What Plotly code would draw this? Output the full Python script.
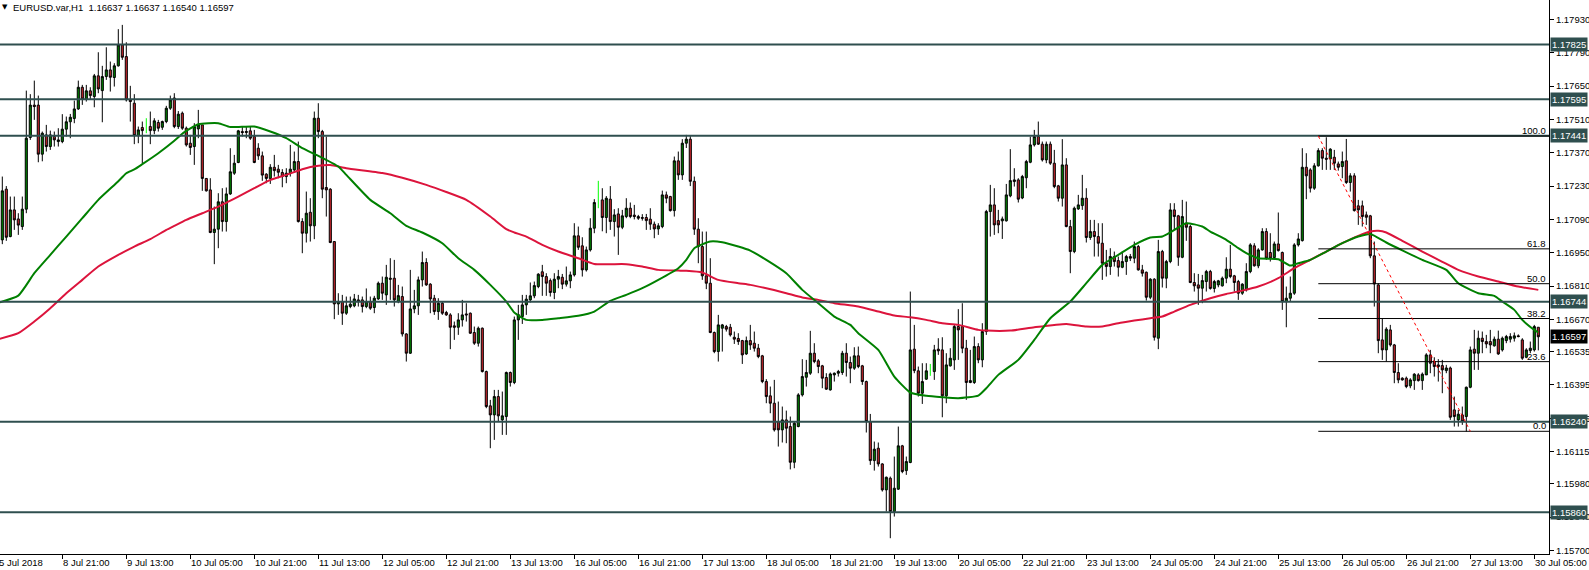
import plotly.graph_objects as go

# velas H1, precio en 1e-5 por encima de 1.0  (17441 -> 1.17441)
opens = [
    17004, 17217, 17018, 17130, 17092, 17060, 17133, 17434, 17570, 17570,
    17364, 17445, 17396, 17438, 17417, 17417, 17469, 17500, 17514, 17554,
    17645, 17595, 17630, 17606, 17693, 17631, 17690, 17718, 17686, 17735,
    17823, 17774, 17592, 17578, 17442, 17476, 17468, 17480, 17463, 17497,
    17477, 17501, 17557, 17600, 17480, 17536, 17473, 17410, 17396, 17470,
    17487, 17262, 17214, 17035, 17049, 17164, 17081, 17197, 17284, 17329,
    17459, 17455, 17462, 17438, 17389, 17357, 17280, 17262, 17309, 17301,
    17287, 17270, 17284, 17298, 17333, 17081, 17032, 17120, 17063, 17515,
    17459, 17224, 17217, 16997, 16735, 16745, 16696, 16724, 16727, 16752,
    16752, 16724, 16745, 16720, 16756, 16822, 16773, 16843, 16843, 16745,
    16766, 16609, 16528, 16714, 16727, 16836, 16909, 16818, 16759, 16703,
    16738, 16699, 16689, 16643, 16637, 16668, 16693, 16696, 16615, 16570,
    16633, 16451, 16307, 16269, 16346, 16248, 16262, 16447, 16405, 16668,
    16682, 16731, 16752, 16769, 16808, 16870, 16850, 16833, 16783, 16839,
    16847, 16818, 16832, 16857, 17021, 16979, 16878, 16962, 17053, 17161,
    17172, 17098, 17175, 17081, 17113, 17057, 17102, 17137, 17108, 17102,
    17098, 17098, 17091, 17070, 17050, 17060, 17193, 17186, 17127, 17336,
    17277, 17410, 17427, 17250, 17049, 16976, 16853, 16822, 16615, 16535,
    16633, 16640, 16637, 16595, 16590, 16581, 16525, 16581, 16570, 16549,
    16517, 16409, 16349, 16318, 16241, 16206, 16248, 16220, 16070, 16220,
    16353, 16427, 16444, 16528, 16496, 16475, 16426, 16374, 16437, 16444,
    16447, 16528, 16489, 16465, 16517, 16475, 16409, 16241, 16077, 16129,
    16063, 15954, 16003, 15863, 15957, 16139, 16035, 16069, 16545, 16454,
    16360, 16419, 16460, 16451, 16545, 16542, 16349, 16475, 16500, 16640,
    16640, 16549, 16405, 16405, 16556, 16500, 16619, 17123, 17151, 17085,
    17084, 17084, 17189, 17249, 17256, 17180, 17265, 17330, 17403, 17438,
    17406, 17340, 17406, 17326, 17231, 17179, 17319, 17060, 16955, 17134,
    17148, 17179, 17014, 17039, 17018, 16990, 16906, 16892, 16934, 16917,
    16889, 16913, 16934, 16927, 16976, 16878, 16868, 16763, 16839, 16591,
    16955, 16843, 16913, 17130, 17105, 16931, 17074, 17060, 16825, 16815,
    16801, 16829, 16871, 16800, 16815, 16811, 16843, 16881, 16853, 16829,
    16780, 16794, 16871, 16979, 16895, 16962, 17039, 16951, 16930, 16987,
    16951, 16745, 16759, 16780, 16983, 17001, 17309, 17298, 17221, 17315,
    17379, 17347, 17344, 17351, 17323, 17312, 17336, 17245, 17273, 17147,
    17147, 17109, 17105, 16937, 16815, 16584, 16542, 16626, 16563, 16447,
    16423, 16423, 16391, 16413, 16437, 16413, 16437, 16521, 16493, 16479,
    16476, 16455, 16466, 16290, 16248, 16269, 16262, 16385, 16545, 16528,
    16591, 16577, 16577, 16559, 16587, 16542, 16581, 16587, 16591, 16601,
    16584, 16511, 16539, 16542, 16637,
]
highs = [
    17270, 17230, 17186, 17186, 17116, 17186, 17631, 17616, 17673, 17610,
    17459, 17487, 17463, 17459, 17473, 17532, 17522, 17533, 17589, 17673,
    17655, 17655, 17645, 17701, 17792, 17735, 17813, 17753, 17746, 17889,
    17907, 17834, 17651, 17616, 17480, 17501, 17515, 17543, 17515, 17508,
    17505, 17567, 17610, 17620, 17545, 17543, 17480, 17445, 17494, 17550,
    17487, 17263, 17263, 17144, 17200, 17221, 17224, 17389, 17361, 17466,
    17480, 17480, 17480, 17466, 17410, 17375, 17284, 17322, 17361, 17319,
    17301, 17305, 17403, 17375, 17417, 17095, 17207, 17179, 17543, 17578,
    17466, 17438, 17221, 16997, 16780, 16773, 16766, 16766, 16777, 16773,
    16766, 16800, 16766, 16769, 16829, 16850, 16899, 16927, 16920, 16815,
    16808, 16612, 16878, 16794, 16850, 16955, 16927, 16822, 16773, 16759,
    16745, 16706, 16696, 16661, 16696, 16752, 16738, 16699, 16640, 16640,
    16636, 16455, 16332, 16374, 16374, 16367, 16451, 16451, 16682, 16731,
    16773, 16773, 16825, 16829, 16864, 16899, 16864, 16842, 16864, 16878,
    16861, 16892, 16871, 17074, 17060, 17015, 16976, 17095, 17175, 17252,
    17221, 17188, 17230, 17133, 17137, 17130, 17179, 17161, 17151, 17109,
    17112, 17113, 17137, 17081, 17074, 17211, 17207, 17189, 17354, 17375,
    17427, 17445, 17440, 17270, 17095, 17039, 17039, 16927, 16619, 16689,
    16651, 16647, 16651, 16619, 16612, 16584, 16598, 16647, 16619, 16567,
    16521, 16419, 16388, 16416, 16325, 16304, 16287, 16262, 16241, 16360,
    16503, 16500, 16622, 16570, 16503, 16479, 16444, 16447, 16447, 16458,
    16538, 16570, 16514, 16553, 16556, 16479, 16413, 16273, 16157, 16153,
    16066, 16010, 16010, 16094, 16220, 16143, 16094, 16787, 16647, 16472,
    16486, 16486, 16483, 16563, 16591, 16595, 16528, 16549, 16647, 16713,
    16738, 16584, 16542, 16598, 16570, 16654, 17130, 17235, 17221, 17130,
    17102, 17239, 17385, 17305, 17263, 17277, 17340, 17438, 17466, 17501,
    17417, 17417, 17417, 17382, 17235, 17427, 17347, 17088, 17144, 17193,
    17277, 17221, 17088, 17088, 17074, 17074, 16962, 16969, 16955, 16934,
    16955, 16941, 16945, 16997, 16983, 16899, 16871, 16843, 16843, 17004,
    16962, 16920, 17158, 17158, 17109, 17172, 17165, 17067, 16864, 16861,
    16857, 16878, 16878, 16836, 16836, 16850, 16931, 16983, 16857, 16836,
    16822, 16906, 16990, 16990, 16969, 17053, 17053, 17032, 16997, 17119,
    16955, 16808, 16850, 16990, 17032, 17389, 17368, 17305, 17326, 17389,
    17389, 17435, 17389, 17382, 17333, 17375, 17428, 17284, 17284, 17172,
    17169, 17123, 17109, 16997, 16822, 16675, 16637, 16647, 16567, 16486,
    16427, 16430, 16423, 16444, 16444, 16447, 16528, 16542, 16511, 16503,
    16500, 16479, 16472, 16346, 16290, 16304, 16388, 16556, 16626, 16623,
    16619, 16605, 16626, 16598, 16623, 16598, 16605, 16612, 16615, 16607,
    16591, 16549, 16577, 16647, 16637,
]
lows = [
    16986, 17000, 17015, 17046, 17025, 17046, 17116, 17424, 17508, 17330,
    17334, 17375, 17382, 17396, 17396, 17410, 17438, 17431, 17494, 17550,
    17571, 17585, 17592, 17561, 17620, 17498, 17676, 17627, 17648, 17732,
    17760, 17585, 17501, 17406, 17410, 17326, 17452, 17406, 17448, 17459,
    17466, 17494, 17550, 17473, 17470, 17466, 17396, 17361, 17319, 17431,
    17210, 17207, 17032, 16902, 16969, 17039, 17039, 17193, 17277, 17326,
    17438, 17431, 17424, 17326, 17340, 17252, 17242, 17239, 17270, 17263,
    17225, 17242, 17270, 17291, 17077, 16948, 16993, 16997, 17007, 17431,
    17179, 17102, 16990, 16671, 16689, 16647, 16689, 16717, 16721, 16724,
    16699, 16717, 16710, 16696, 16752, 16752, 16731, 16752, 16724, 16738,
    16598, 16493, 16525, 16696, 16689, 16808, 16811, 16696, 16689, 16668,
    16689, 16685, 16545, 16584, 16605, 16640, 16661, 16609, 16563, 16556,
    16447, 16297, 16129, 16164, 16241, 16185, 16185, 16388, 16398, 16584,
    16651, 16689, 16741, 16759, 16801, 16769, 16769, 16766, 16755, 16801,
    16797, 16808, 16801, 16850, 16962, 16850, 16871, 16955, 17032, 17137,
    17040, 17032, 17046, 17018, 16941, 17049, 17095, 17095, 17090, 17088,
    17085, 17046, 17046, 17011, 17025, 17053, 17158, 17123, 17102, 17256,
    17256, 17390, 17230, 17025, 16906, 16836, 16797, 16612, 16528, 16493,
    16535, 16619, 16598, 16567, 16563, 16483, 16521, 16542, 16535, 16507,
    16402, 16318, 16276, 16199, 16136, 16153, 16150, 16040, 16045, 16217,
    16346, 16388, 16437, 16486, 16444, 16381, 16374, 16371, 16409, 16430,
    16437, 16430, 16402, 16458, 16465, 16395, 16195, 16059, 16035, 16052,
    15947, 15863, 15751, 15842, 15954, 16024, 16017, 16066, 16444, 16346,
    16315, 16416, 16433, 16416, 16521, 16259, 16318, 16472, 16458, 16500,
    16528, 16332, 16402, 16399, 16486, 16469, 16605, 17018, 17025, 17032,
    17008, 17081, 17183, 17228, 17161, 17175, 17221, 17326, 17396, 17403,
    17333, 17326, 17319, 17221, 17165, 17144, 17057, 16864, 16948, 17130,
    17130, 16993, 17004, 16934, 16934, 16836, 16850, 16857, 16892, 16850,
    16885, 16857, 16915, 16906, 16875, 16850, 16749, 16755, 16581, 16545,
    16804, 16801, 16906, 17046, 16895, 16927, 17000, 16822, 16787, 16731,
    16738, 16787, 16795, 16783, 16805, 16808, 16822, 16843, 16787, 16752,
    16773, 16787, 16864, 16892, 16885, 16959, 16920, 16913, 16920, 16955,
    16710, 16637, 16745, 16773, 16976, 16997, 17175, 17203, 17214, 17312,
    17298, 17298, 17298, 17298, 17295, 17263, 17239, 17207, 17123, 17067,
    17060, 17067, 16927, 16724, 16528, 16500, 16493, 16556, 16402, 16402,
    16413, 16381, 16381, 16374, 16409, 16374, 16437, 16444, 16430, 16409,
    16360, 16444, 16248, 16220, 16220, 16227, 16199, 16381, 16458, 16458,
    16528, 16549, 16528, 16556, 16521, 16535, 16570, 16573, 16577, 16595,
    16500, 16507, 16528, 16535, 16540,
]
closes = [
    17210, 17015, 17130, 17088, 17066, 17133, 17431, 17570, 17564, 17364,
    17452, 17396, 17445, 17424, 17424, 17469, 17500, 17519, 17554, 17645,
    17595, 17630, 17610, 17693, 17638, 17690, 17718, 17687, 17735, 17823,
    17771, 17592, 17585, 17442, 17466, 17463, 17468, 17463, 17504, 17473,
    17501, 17557, 17592, 17480, 17532, 17473, 17403, 17392, 17480, 17487,
    17262, 17210, 17035, 17049, 17164, 17081, 17197, 17290, 17326, 17462,
    17455, 17459, 17431, 17329, 17357, 17276, 17262, 17309, 17295, 17288,
    17270, 17284, 17301, 17333, 17081, 17032, 17116, 17063, 17515, 17459,
    17217, 17214, 16993, 16735, 16745, 16696, 16727, 16734, 16756, 16745,
    16724, 16745, 16717, 16759, 16822, 16780, 16847, 16839, 16752, 16770,
    16609, 16528, 16714, 16727, 16836, 16909, 16815, 16756, 16703, 16738,
    16696, 16689, 16637, 16637, 16668, 16689, 16689, 16612, 16570, 16633,
    16451, 16304, 16269, 16346, 16265, 16265, 16447, 16405, 16668, 16690,
    16731, 16755, 16769, 16812, 16860, 16850, 16822, 16783, 16839, 16850,
    16818, 16832, 16857, 17021, 16973, 16878, 16962, 17053, 17161, 17161,
    17098, 17179, 17081, 17109, 17057, 17105, 17137, 17102, 17102, 17095,
    17095, 17085, 17070, 17050, 17063, 17193, 17179, 17127, 17336, 17277,
    17410, 17427, 17250, 17049, 16976, 16853, 16822, 16615, 16535, 16647,
    16647, 16629, 16605, 16587, 16577, 16521, 16581, 16563, 16549, 16514,
    16409, 16346, 16318, 16206, 16206, 16248, 16213, 16070, 16234, 16353,
    16430, 16447, 16528, 16493, 16472, 16423, 16377, 16441, 16444, 16451,
    16528, 16489, 16465, 16517, 16472, 16409, 16241, 16077, 16125, 16063,
    15954, 16007, 15863, 15961, 16139, 16031, 16073, 16542, 16455, 16360,
    16409, 16454, 16460, 16542, 16538, 16349, 16479, 16507, 16640, 16626,
    16549, 16405, 16413, 16556, 16500, 16619, 17123, 17151, 17067, 17067,
    17092, 17193, 17253, 17256, 17175, 17270, 17333, 17403, 17438, 17406,
    17340, 17406, 17326, 17228, 17179, 17319, 17060, 16955, 17137, 17151,
    17179, 17014, 17039, 17018, 16990, 16906, 16892, 16934, 16913, 16889,
    16913, 16934, 16927, 16976, 16878, 16864, 16763, 16839, 16595, 16955,
    16843, 16913, 17130, 17102, 16931, 17102, 17057, 16825, 16811, 16801,
    16833, 16871, 16800, 16829, 16832, 16843, 16881, 16850, 16825, 16780,
    16818, 16871, 16983, 16895, 16962, 17039, 16927, 16927, 16987, 16959,
    16745, 16759, 16780, 16983, 17008, 17309, 17273, 17221, 17315, 17379,
    17347, 17343, 17385, 17326, 17309, 17333, 17245, 17273, 17127, 17130,
    17102, 17099, 16937, 16819, 16581, 16542, 16629, 16563, 16447, 16416,
    16416, 16388, 16416, 16440, 16413, 16440, 16521, 16486, 16472, 16472,
    16458, 16466, 16259, 16262, 16272, 16241, 16385, 16542, 16528, 16591,
    16577, 16567, 16563, 16587, 16525, 16591, 16598, 16598, 16601, 16598,
    16507, 16542, 16549, 16640, 16597,
]

# medias moviles (barra, valor)
ma_fast_bars = [
    -1, 4, 8, 12, 16, 20, 24, 29, 31, 33, 35, 39, 43, 45, 49, 54, 57, 63, 67, 71,
    75, 79, 84, 86, 92, 97, 101, 105, 110, 114, 118, 122, 126, 128, 131, 135, 139,
    144, 148, 152, 156, 160, 164, 169, 171, 173, 177, 180, 184, 187, 191, 196, 200,
    204, 208, 212, 214, 219, 223, 227, 231, 235, 239, 244, 246, 249, 254, 258, 262,
    267, 271, 275, 279, 283, 287, 290, 292, 296, 300, 302, 306, 309, 311, 314, 319,
    322, 324, 327, 331, 335, 339, 342, 346, 350, 355, 361, 364, 369, 373, 375, 378,
    380, 383, 384,
]
ma_fast = [
    16740, 16770, 16864, 16941, 17018, 17095, 17172, 17250, 17284, 17300, 17322,
    17368, 17420, 17450, 17490, 17494, 17478, 17480, 17459, 17431, 17389, 17357,
    17312, 17277, 17172, 17116, 17063, 17035, 16990, 16927, 16878, 16815, 16745,
    16699, 16668, 16668, 16675, 16685, 16703, 16748, 16773, 16801, 16836, 16885,
    16920, 16969, 16997, 16994, 16976, 16959, 16920, 16864, 16794, 16738, 16682,
    16647, 16612, 16542, 16430, 16363, 16349, 16343, 16339, 16350, 16381, 16437,
    16500, 16584, 16675, 16745, 16822, 16899, 16941, 16983, 17014, 17018, 17035,
    17074, 17060, 17039, 17004, 16969, 16948, 16927, 16923, 16896, 16906, 16920,
    16955, 16990, 17018, 17029, 16993, 16960, 16920, 16878, 16822, 16780, 16769,
    16745, 16710, 16668, 16626, 16615,
]
ma_slow_bars = [
    -1, 4, 8, 12, 16, 20, 24, 29, 33, 37, 41, 43, 46, 50, 54, 59, 63, 67, 71, 75,
    79, 82, 86, 95, 100, 106, 111, 116, 122, 126, 128, 131, 135, 139, 144, 148, 152,
    156, 160, 164, 169, 171, 175, 179, 184, 187, 191, 196, 200, 204, 208, 214, 219,
    223, 227, 231, 235, 239, 244, 246, 252, 258, 266, 271, 275, 279, 283, 287, 290,
    293, 297, 302, 306, 310, 314, 319, 323, 327, 331, 335, 339, 342, 344, 346, 350,
    355, 360, 364, 369, 374, 379, 384,
]
ma_slow = [
    16587, 16612, 16661, 16717, 16780, 16836, 16892, 16941, 16976, 17007, 17046,
    17063, 17088, 17116, 17144, 17186, 17221, 17256, 17277, 17301, 17315, 17318,
    17305, 17285, 17265, 17235, 17205, 17172, 17102, 17049, 17035, 17018, 16983,
    16955, 16927, 16903, 16902, 16902, 16892, 16878, 16875, 16874, 16867, 16836,
    16822, 16815, 16801, 16780, 16762, 16752, 16738, 16724, 16703, 16686, 16679,
    16668, 16654, 16647, 16626, 16623, 16623, 16637, 16651, 16640, 16640, 16654,
    16665, 16675, 16682, 16703, 16731, 16759, 16777, 16791, 16808, 16843, 16885,
    16920, 16955, 16990, 17021, 17039, 17042, 17035, 17000, 16955, 16912, 16878,
    16850, 16829, 16808, 16794,
]

# lineas horizontales y etiquetas de precio
levels = [1.17825, 1.17595, 1.17441, 1.16744, 1.16240, 1.15860]
bid = 1.16597

# fibonacci: barras y precios de los dos anclajes
fib_bars = [329, 367]
fib_prices = [1.17440, 1.16200]
fib_ratios = [1.0, 0.618, 0.5, 0.382, 0.236, 0.0]
fib_texts = ["100.0", "61.8", "50.0", "38.2", "23.6", "0.0"]

price_ticks = ["1.17930", "1.17790", "1.17650", "1.17510", "1.17370", "1.17230",
               "1.17090", "1.16950", "1.16810", "1.16670", "1.16535", "1.16395",
               "1.16255", "1.16115", "1.15980", "1.15840", "1.15700"]
time_ticks = ["5 Jul 2018", "8 Jul 21:00", "9 Jul 13:00", "10 Jul 05:00", "10 Jul 21:00",
              "11 Jul 13:00", "12 Jul 05:00", "12 Jul 21:00", "13 Jul 13:00",
              "16 Jul 05:00", "16 Jul 21:00", "17 Jul 13:00", "18 Jul 05:00",
              "18 Jul 21:00", "19 Jul 13:00", "20 Jul 05:00", "22 Jul 21:00",
              "23 Jul 13:00", "24 Jul 05:00", "24 Jul 21:00", "25 Jul 13:00",
              "26 Jul 05:00", "26 Jul 21:00", "27 Jul 13:00", "30 Jul 05:00"]
title_text = "EURUSD.var,H1  1.16637 1.16637 1.16540 1.16597"

# %%
def precio(v):
    return 1 + v / 100000

FONT = "Liberation Sans"
SLATE = "#2F4F4F"
X_RANGE = [-0.575, 386.675]
Y_RANGE = [1.156847, 1.180115]

n = len(closes)
velas = [i for i in range(n) if opens[i] != closes[i]]
dojis = [i for i in range(n) if opens[i] == closes[i]]
# una etiqueta de tiempo cada 16 barras (MT4), la primera una barra antes del borde
time_bars = [-1] + [15 + 16 * k for k in range(len(time_ticks) - 1)]

fig = go.Figure()

fig.add_trace(go.Candlestick(
    x=velas,
    open=[precio(opens[i]) for i in velas],
    high=[precio(highs[i]) for i in velas],
    low=[precio(lows[i]) for i in velas],
    close=[precio(closes[i]) for i in velas],
    increasing=dict(line=dict(color="black", width=1), fillcolor="#008000"),
    decreasing=dict(line=dict(color="black", width=1), fillcolor="#C8262C"),
    whiskerwidth=0,
    showlegend=False,
))

# velas con apertura = cierre (se ven como linea lima)
dx, dy = [], []
for i in dojis:
    dx += [i, i, None]
    dy += [precio(lows[i]), precio(highs[i]), None]
fig.add_trace(go.Scatter(x=dx, y=dy, mode="lines", line=dict(color="#00FF00", width=1),
                         showlegend=False))

fig.add_trace(go.Scatter(x=ma_slow_bars, y=[precio(v) for v in ma_slow], mode="lines",
                         line=dict(color="#DC143C", width=2, shape="spline", smoothing=0.5),
                         showlegend=False))
fig.add_trace(go.Scatter(x=ma_fast_bars, y=[precio(v) for v in ma_fast], mode="lines",
                         line=dict(color="#008000", width=2, shape="spline", smoothing=0.5),
                         showlegend=False))

shapes = []
annotations = []

for lv in levels:
    shapes.append(dict(type="line", xref="paper", x0=0, x1=1, yref="y", y0=lv, y1=lv,
                       line=dict(color=SLATE, width=2)))
    annotations.append(dict(xref="paper", x=1, yref="y", y=lv, text=f"{lv:.5f}",
                            showarrow=False, xanchor="left", xshift=1, bgcolor=SLATE,
                            borderpad=1, font=dict(family=FONT, size=9.5, color="white")))

annotations.append(dict(xref="paper", x=1, yref="y", y=bid, text=f"{bid:.5f}",
                        showarrow=False, xanchor="left", xshift=1, bgcolor="black",
                        borderpad=1, font=dict(family=FONT, size=9.5, color="white")))

# fibonacci
fib_hi, fib_lo = fib_prices
for r, t in zip(fib_ratios, fib_texts):
    lv = fib_lo + r * (fib_hi - fib_lo)
    shapes.append(dict(type="line", xref="x", x0=fib_bars[0], x1=X_RANGE[1], yref="y",
                       y0=lv, y1=lv, line=dict(color="black", width=1)))
    annotations.append(dict(xref="paper", x=1, yref="y", y=lv, text=t, showarrow=False,
                            xanchor="right", yanchor="bottom", xshift=-1, yshift=-2,
                            font=dict(family=FONT, size=9.5, color="black")))
shapes.append(dict(type="line", xref="x", x0=fib_bars[0], x1=fib_bars[1], yref="y",
                   y0=fib_hi, y1=fib_lo, line=dict(color="red", width=1, dash="dot")))

# etiquetas del eje de tiempo, alineadas a la izquierda de la marca
span = X_RANGE[1] - X_RANGE[0]
for b, t in zip(time_bars, time_ticks):
    annotations.append(dict(xref="paper", x=(b - X_RANGE[0]) / span, yref="paper", y=0,
                            text=t, showarrow=False, xanchor="left", yanchor="top",
                            xshift=-1, yshift=-1,
                            font=dict(family=FONT, size=9.5, color="black")))

# titulo arriba a la izquierda
annotations.append(dict(xref="paper", x=0, yref="paper", y=1, text="\u25bc",
                        showarrow=False, xanchor="left", yanchor="top", xshift=0, yshift=-1,
                        font=dict(family="DejaVu Sans", size=7, color="black")))
annotations.append(dict(xref="paper", x=0, yref="paper", y=1,
                        text=title_text.replace(" ", "\u00a0"), showarrow=False,
                        xanchor="left", yanchor="top", xshift=11, yshift=0,
                        font=dict(family=FONT, size=9.5, color="black")))

fig.update_layout(
    width=1589, height=570,
    margin=dict(l=0, r=40, t=0, b=16),
    paper_bgcolor="white", plot_bgcolor="white",
    boxgap=0.25,
    hovermode=False,
    showlegend=False,
    shapes=shapes,
    annotations=annotations,
    xaxis=dict(range=X_RANGE, showgrid=False, zeroline=False, showline=True,
               linecolor="black", linewidth=1, ticks="outside", ticklen=4,
               tickcolor="black", tickvals=time_bars[1:], showticklabels=False,
               rangeslider=dict(visible=False)),
    yaxis=dict(range=Y_RANGE, side="right", showgrid=False, zeroline=False,
               showline=True, linecolor="black", linewidth=1, ticks="outside",
               ticklen=4, tickcolor="black",
               tickvals=[float(t) for t in price_ticks], ticktext=price_ticks,
               tickfont=dict(family=FONT, size=9.5, color="black")),
)

# sin margen del body para que la figura empiece en (0, 0)
fig.write_html("out.html", config={"displayModeBar": False},
               post_script="document.body.style.margin='0';"
                           "document.body.style.overflow='hidden';")
print("grafico hecho")
